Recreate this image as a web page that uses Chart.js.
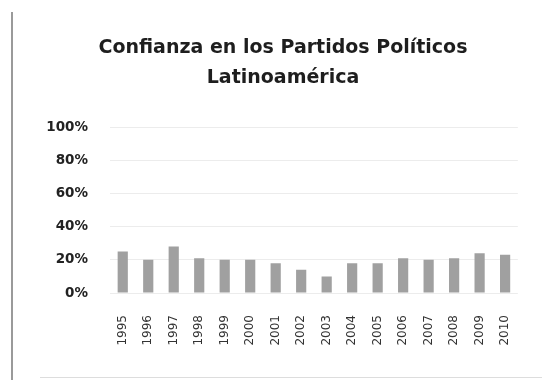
<!DOCTYPE html>
<html>
<head>
<meta charset="utf-8">
<script src="https://cdn.jsdelivr.net/npm/chart.js@4"></script>
<style>
  html, body { margin: 0; padding: 0; background: #fff; }
  #wrap { position: relative; width: 542px; height: 380px; }
  #frameL { position: absolute; left: 11px; top: 12px; width: 2px; height: 368px; background: #9a9a9a; }
  #frameB { position: absolute; left: 40px; top: 377px; width: 502px; height: 1px; background: #dddddd; }
  canvas { position: absolute; left: 0; top: 0; }
</style>
</head>
<body>
<div id="wrap">
  <canvas id="c" width="542" height="380"></canvas>
  <div id="frameL"></div>
  <div id="frameB"></div>
</div>
<script>
const titleLines = ['Confianza en los Partidos Políticos', 'Latinoamérica'];
const years = ['1995','1996','1997','1998','1999','2000','2001','2002','2003','2004','2005','2006','2007','2008','2009','2010'];
const confianza = [0.25, 0.20, 0.28, 0.21, 0.20, 0.20, 0.18, 0.14, 0.10, 0.18, 0.18, 0.21, 0.20, 0.21, 0.24, 0.23];
const yTicks = [0, 0.2, 0.4, 0.6, 0.8, 1.0];

const FONT = "'DejaVu Sans', 'Liberation Sans', sans-serif";

new Chart(document.getElementById('c'), {
  type: 'bar',
  data: {
    labels: years,
    datasets: [{
      data: confianza,
      backgroundColor: '#a0a0a0',
      borderWidth: 0,
      barPercentage: 0.4,
      categoryPercentage: 1.0
    }]
  },
  options: {
    responsive: false,
    animation: false,
    layout: { padding: { left: 40, right: 16, top: 0, bottom: 0 } },
    plugins: {
      legend: { display: false },
      tooltip: { enabled: false },
      title: {
        display: true,
        text: titleLines,
        color: '#1e1e1e',
        font: { family: FONT, size: 19, weight: 'bold', lineHeight: 1.58 },
        padding: { top: 33, bottom: 34 }
      }
    },
    scales: {
      y: {
        min: 0, max: 1,
        afterBuildTicks: (axis) => { axis.ticks = yTicks.map(v => ({ value: v })); },
        afterFit: (axis) => { axis.width = 70; },
        border: { display: false },
        grid: { color: '#ececec', drawTicks: false },
        ticks: {
          padding: 22,
          color: '#222',
          font: { family: FONT, size: 13.5, weight: 'bold' },
          callback: (v) => Math.round(v * 100) + '%'
        }
      },
      x: {
        afterFit: (axis) => { axis.height = 87; },
        border: { display: false },
        grid: { display: false, drawTicks: false },
        ticks: {
          padding: 22,
          minRotation: 90, maxRotation: 90,
          color: '#333',
          font: { family: FONT, size: 12 }
        }
      }
    }
  }
});
</script>
</body>
</html>
